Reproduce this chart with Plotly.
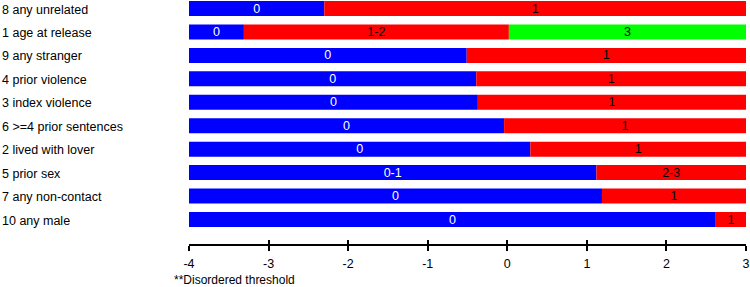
import plotly.graph_objects as go

categories = ["8 any unrelated", "1 age at release", "9 any stranger", "4 prior violence",
              "3 index violence", "6 >=4 prior sentences", "2 lived with lover", "5 prior sex",
              "7 any non-contact", "10 any male"]
axis_min = -4
axis_max = 3
blue_end = [-2.30, -3.31, -0.51, -0.39, -0.37, -0.04, 0.29, 1.12, 1.19, 2.62]
red_end = [3, 0.02, 3, 3, 3, 3, 3, 3, 3, 3]
green_end = [3, 3, 3, 3, 3, 3, 3, 3, 3, 3]
blue_text = ["0", "0", "0", "0", "0", "0", "0", "0-1", "0", "0"]
red_text = ["1", "1-2", "1", "1", "1", "1", "1", "2-3", "1", "1"]
green_text = ["", "3", "", "", "", "", "", "", "", ""]
tick_vals = [-4, -3, -2, -1, 0, 1, 2, 3]
tick_text = ["-4", "-3", "-2", "-1", "0", "1", "2", "3"]
footnote = "**Disordered threshold"

ypos = list(range(len(categories)))
font_family = "Liberation Sans, Arial, sans-serif"
fs = 12.5

fig = go.Figure()
common = dict(orientation="h", textposition="inside", insidetextanchor="middle",
              textangle=0, constraintext="none", width=0.64, hoverinfo="skip",
              cliponaxis=False)
fig.add_trace(go.Bar(
    y=ypos, x=[b - axis_min for b in blue_end], base=[axis_min] * len(ypos),
    marker=dict(color="#0000FF", line=dict(width=0)), text=blue_text,
    textfont=dict(color="white", size=fs, family=font_family), **common))
fig.add_trace(go.Bar(
    y=ypos, x=[r - b for r, b in zip(red_end, blue_end)], base=blue_end,
    marker=dict(color="#FF0000", line=dict(width=0)), text=red_text,
    textfont=dict(color="black", size=fs, family=font_family), **common))
fig.add_trace(go.Bar(
    y=ypos, x=[g - r for g, r in zip(green_end, red_end)], base=red_end,
    marker=dict(color="#00FF00", line=dict(width=0)), text=green_text,
    textfont=dict(color="black", size=fs, family=font_family), **common))
# invisible trace to carry second x axis (inside ticks)
fig.add_trace(go.Scatter(x=[axis_min], y=[0], xaxis="x2", mode="markers",
                         marker=dict(opacity=0), hoverinfo="skip", showlegend=False))

L, R, T, B = 189, 4, 0, 43
W, H = 750, 287
plot_w = W - L - R
plot_h = H - T - B

for yv, name in zip(ypos, categories):
    fig.add_annotation(x=-L / plot_w, xref="paper", y=yv, yref="y", text=name,
                       xanchor="left", yanchor="middle", showarrow=False, yshift=-1,
                       font=dict(size=fs, family=font_family, color="black"))

fig.add_annotation(x=(172 - L) / plot_w, xref="paper", y=(plot_h - 280) / plot_h, yref="paper",
                   text=footnote, xanchor="left", yanchor="middle", showarrow=False,
                   font=dict(size=12, family=font_family, color="black"))

fig.update_layout(
    width=W, height=H, margin=dict(l=L, r=R, t=T, b=B),
    barmode="overlay", showlegend=False,
    plot_bgcolor="white", paper_bgcolor="white",
    font=dict(family=font_family, size=12, color="black"),
    xaxis=dict(range=[axis_min, axis_max], tickvals=tick_vals, ticktext=tick_text,
               showgrid=False, zeroline=False,
               showline=True, linecolor="black", linewidth=2, ticks="outside", ticklen=5,
               tickwidth=2, tickcolor="black", ticklabelstandoff=2,
               tickfont=dict(size=fs, family=font_family, color="black")),
    xaxis2=dict(range=[axis_min, axis_max], tickvals=tick_vals, overlaying="x", side="bottom",
                anchor="y", showgrid=False, zeroline=False, showline=False, ticks="inside",
                ticklen=4, tickwidth=2, tickcolor="black", showticklabels=False),
    yaxis=dict(range=[10.045, -0.363], showgrid=False, zeroline=False, showline=False,
               showticklabels=False, ticks=""),
)

fig.write_html("out.html")
